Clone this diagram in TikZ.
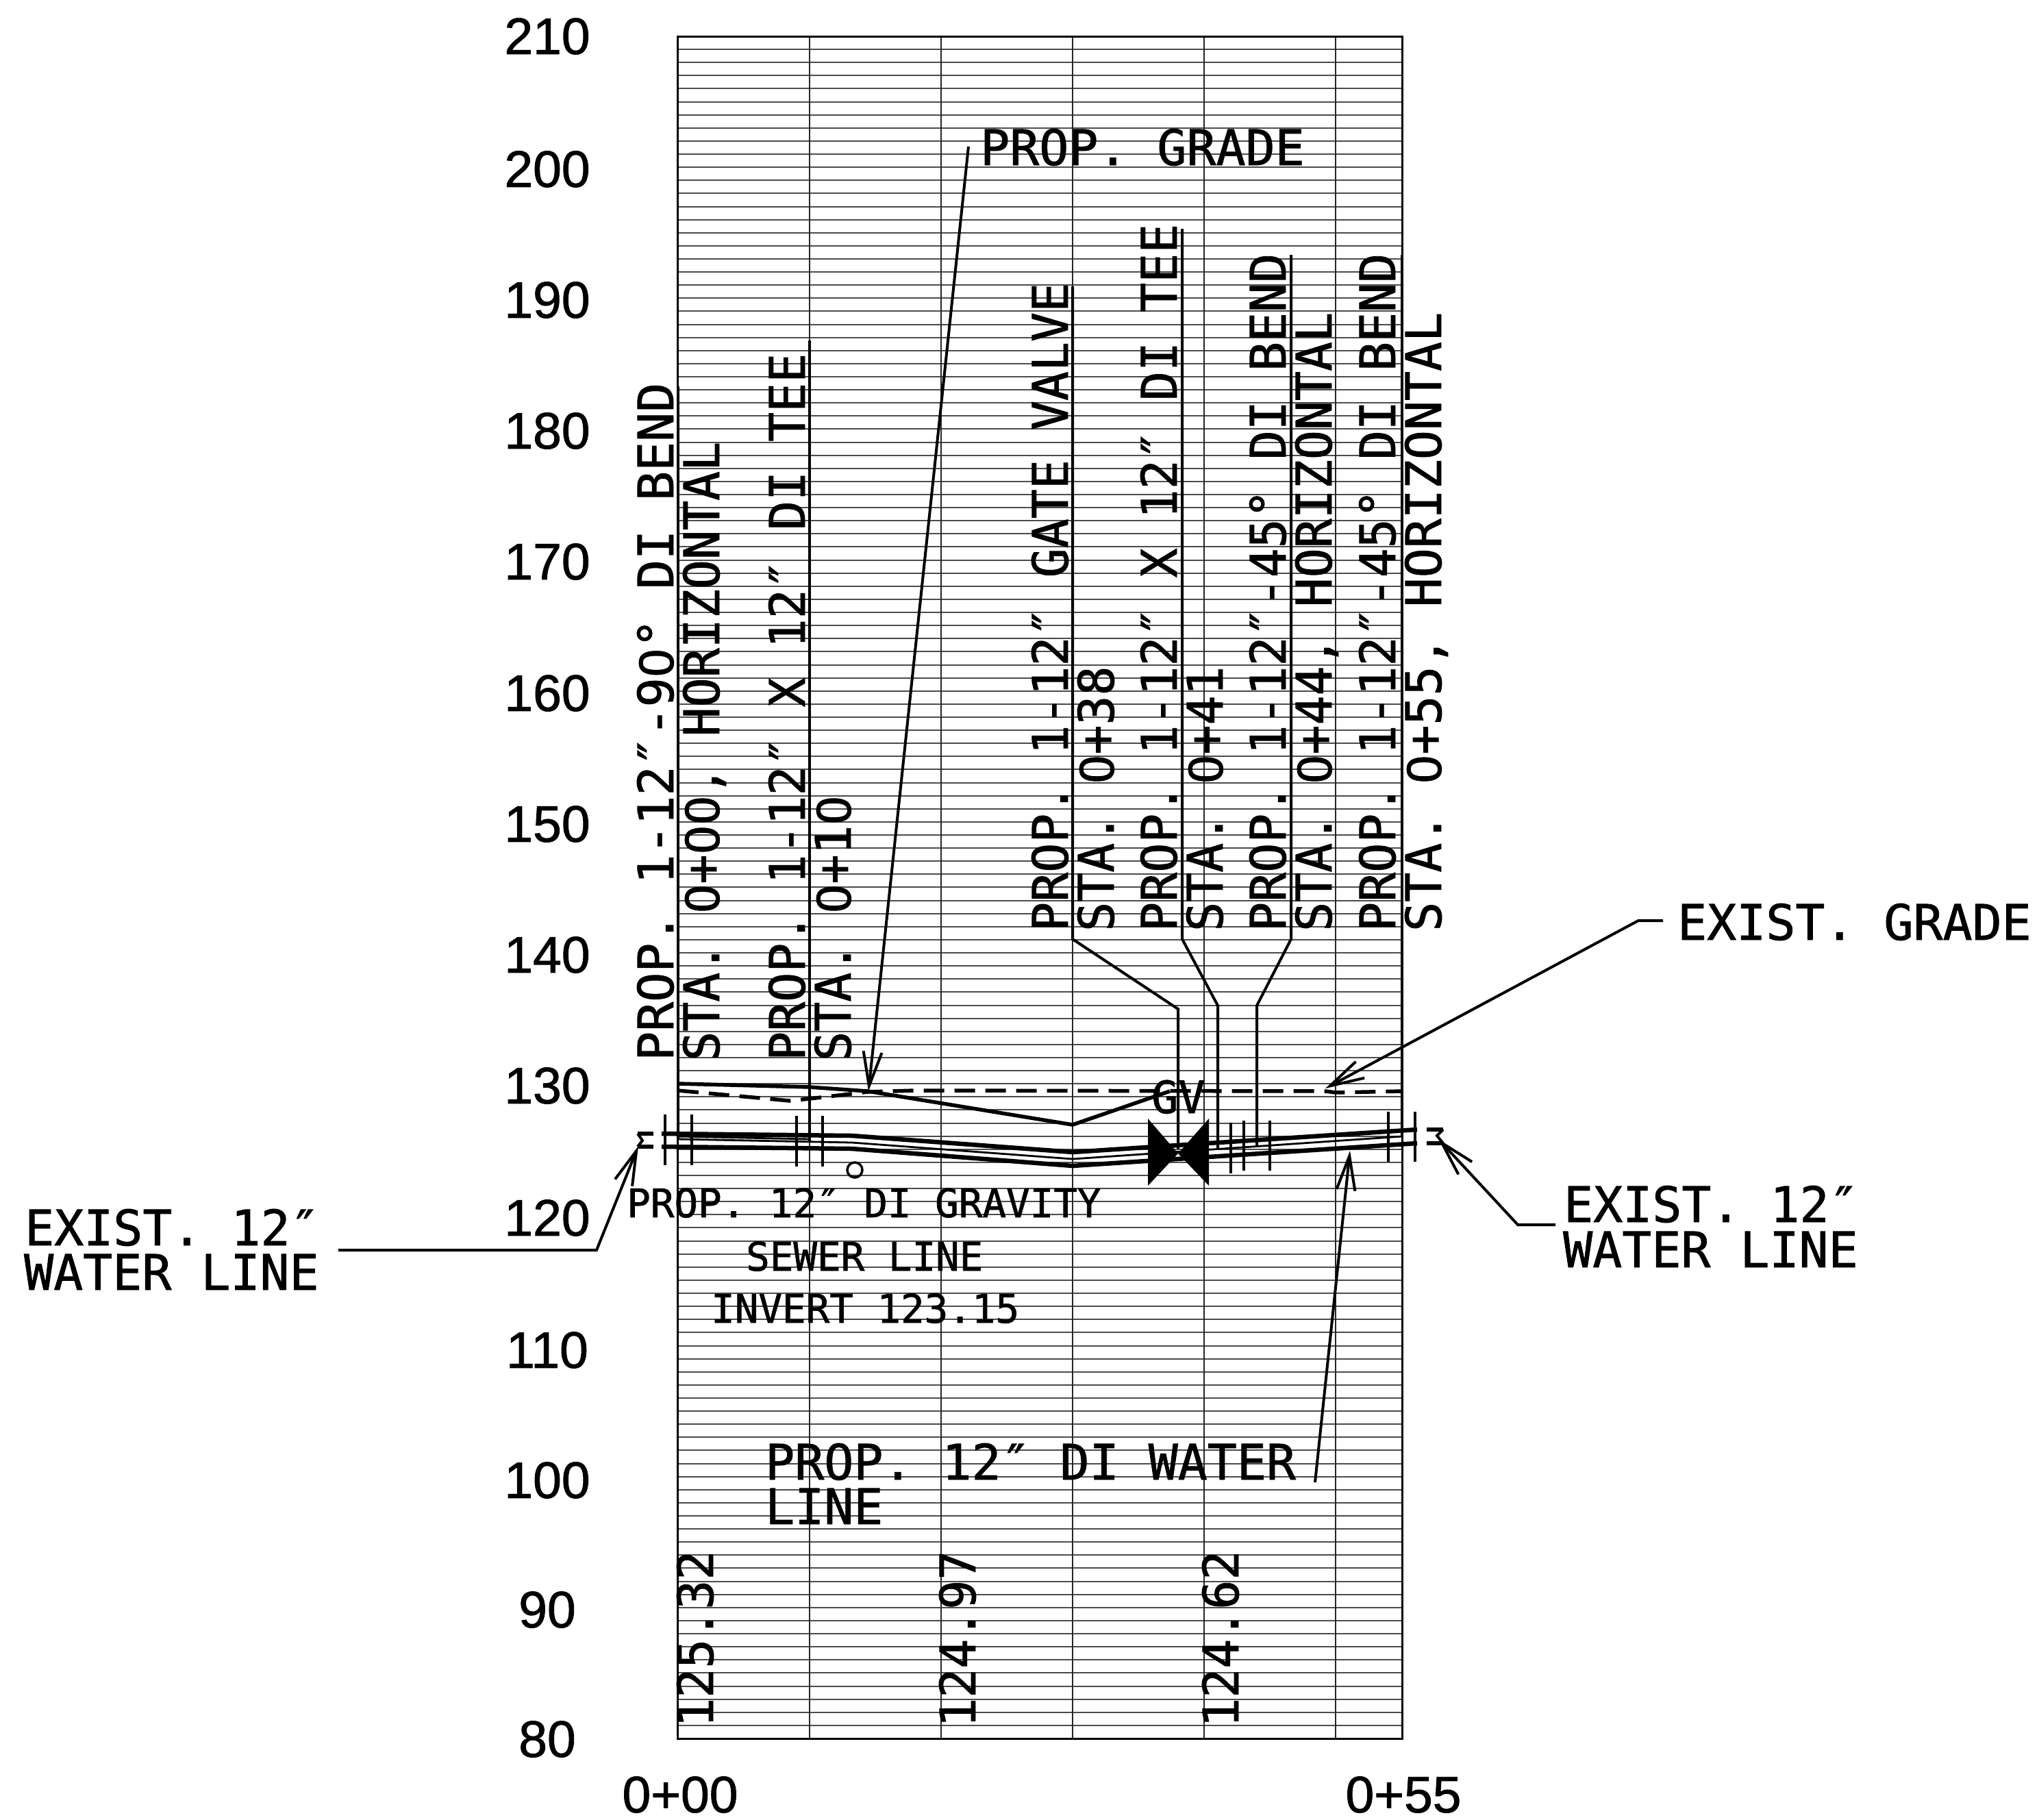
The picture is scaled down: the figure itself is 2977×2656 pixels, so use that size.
\documentclass[tikz,border=0pt]{standalone}
\usepackage{fontspec}
\usetikzlibrary{arrows.meta}
\newfontfamily\cadfont[FakeBold=1.2]{DejaVu Sans Mono}
\newfontfamily\zerofont[FakeBold=1.5]{Liberation Sans}
\newfontfamily\axisfont[FakeBold=1.2]{Liberation Sans}
\newcommand{\Zr}{\makebox[0.602em]{\zerofont 0}}
\frenchspacing
\tikzset{
  gridh/.style={line width=2pt,black!70},
  gridv/.style={line width=1.8pt,black!85},
  frameline/.style={line width=3pt,black},
  leader/.style={line width=4pt,black},
  pointer/.style={line width=4pt,black,-{Straight Barb[length=50pt,width=27pt,line width=4pt]}},
  pipewall/.style={line width=6.5pt,black},
  pipecentre/.style={line width=2.8pt,black},
  grade/.style={line width=5.5pt,black},
  egrade/.style={line width=5.5pt,black,dash pattern=on 30pt off 15pt},
  jointtick/.style={line width=4.5pt,black},
  cad/.style={font=\cadfont\fontsize{71.5}{71.5}\selectfont,inner sep=0pt,anchor=base west},
  cadup/.style={cad,rotate=90},
  cadsmall/.style={font=\cadfont\fontsize{57.5}{57.5}\selectfont,inner sep=0pt,anchor=base west},
  cadgv/.style={font=\cadfont\fontsize{65}{65}\selectfont,inner sep=0pt,anchor=base west},
  axislabel/.style={font=\axisfont\fontsize{75}{75}\selectfont,inner sep=0pt,anchor=center},
}
\begin{document}
\begin{tikzpicture}[x=1pt,y=-1pt]
\useasboundingbox (0,0) rectangle (2977,2656);
% grid
\foreach \i in {0,...,130}{\draw[gridh] (989,{53+\i*19.115}) -- (2047,{53+\i*19.115});}
\foreach \x in {1182,1374,1566,1758,1950}{\draw[gridv] (\x,53) -- (\x,2538);}
\draw[frameline] (989,53) rectangle (2047,2538);
% axis
\foreach \v/\y in {210/53,200/247,190/438,180/629,170/820,160/1012,150/1203,140/1394,130/1585,120/1778,110/1971,100/2161,90/2350,80/2539}{
  \node[axislabel] (ax\v) at (799,\y) {\v};}
\node[axislabel] (st0) at (993,2620) {0+00};
\node[axislabel] (st55) at (2049,2620) {0+55};
% rotated call-outs
\node[cadup] (t1) at (983,1549) {PROP. 1-12″-9\Zr° DI BEND};
\node[cadup] (t2) at (1050,1549) {STA. \Zr+\Zr\Zr, HORIZONTAL};
\node[cadup] (t3) at (1175,1549) {PROP. 1-12″ X 12″ DI TEE};
\node[cadup] (t4) at (1242,1549) {STA. \Zr+1\Zr};
\node[cadup] (t5) at (1559,1360) {PROP. 1-12″ GATE VALVE};
\node[cadup] (t6) at (1626,1360) {STA. \Zr+38};
\node[cadup] (t7) at (1718,1360) {PROP. 1-12″ X 12″ DI TEE};
\node[cadup] (t8) at (1785,1360) {STA. \Zr+41};
\node[cadup] (t9) at (1877,1360) {PROP. 1-12″-45° DI BEND};
\node[cadup] (t10) at (1944,1360) {STA. \Zr+44, HORIZONTAL};
\node[cadup] (t11) at (2037,1360) {PROP. 1-12″-45° DI BEND};
\node[cadup] (t12) at (2104,1360) {STA. \Zr+55, HORIZONTAL};
% elevations
\node[cadup] (e1) at (1041,2522) {125.32};
\node[cadup] (e2) at (1424,2522) {124.97};
\node[cadup] (e3) at (1808,2522) {124.62};
% horizontal labels
\node[cad] (pg) at (1431,241) {PROP. GRADE};
\node[cad] (eg) at (2449,1372) {EXIST. GRADE};
\node[cad] (wl1a) at (36,1818) {EXIST. 12″};
\node[cad] (wl1b) at (35,1883) {WATER LINE};
\node[cad] (wl2a) at (2283,1784) {EXIST. 12″};
\node[cad] (wl2b) at (2282,1850) {WATER LINE};
\node[cad] (dia) at (1117,2160) {PROP. 12″ DI WATER};
\node[cad] (dib) at (1117,2225) {LINE};
\node[cadsmall] (s1) at (915,1777) {PROP. 12″ DI GRAVITY};
\node[cadsmall] (s2) at (1089,1855) {SEWER LINE};
\node[cadsmall] (s3) at (1038,1931) {INVERT 123.15};
\node[cadgv] (gv) at (1681,1625) {GV};
% grade lines
\draw[grade] (990,1582) -- (1182,1587) -- (1267,1593) -- (1566,1642) -- (1708,1593);
\draw[egrade] (990,1592) -- (1153,1607) -- (1182,1604) -- (1267,1594) -- (1336,1592) -- (1935,1593) -- (1950,1595) -- (2047,1593);
% pipe
\draw[pipewall] (931,1655) -- (954,1655);
\draw[pipewall] (931,1674) -- (954,1674);
\draw[pipewall] (966,1655) -- (1244,1658) -- (1566,1682) -- (2069,1649);
\draw[pipewall] (966,1674) -- (1244,1677) -- (1566,1702) -- (2069,1669);
\draw[pipecentre] (990,1663) -- (1244,1668) -- (1566,1692) -- (2047,1659);
\draw[pipecentre] (990,1659) -- (1182,1663);
\draw[pipewall] (2083,1649) -- (2107,1649);
\draw[pipewall] (2083,1669) -- (2107,1669);
\draw[line width=4pt,line join=miter] (931,1655) -- (938,1665) -- (931,1674);
\draw[line width=4pt,line join=miter] (2107,1649) -- (2098,1658) -- (2107,1669);
% joints
\foreach \x/\a/\b in {971/1627/1701,1010/1627/1701,1163/1629/1703,1201/1629/1703,1797/1639/1713,1816/1636/1709,1854/1636/1709,2027/1623/1696,2066/1623/1696}{
  \draw[jointtick] (\x,\a) -- (\x,\b);}
% valve
\fill[black] (1676,1633) -- (1720,1684) -- (1676,1731) -- cycle;
\fill[black] (1765,1633) -- (1720,1684) -- (1765,1731) -- cycle;
\draw[line width=3.5pt] (1248,1708) circle (11pt);
% leaders
\coordinate (la1) at (990,564);   \coordinate (la2) at (990,1663);
\coordinate (lb1) at (1182,497);  \coordinate (lb2) at (1182,1668);
\coordinate (lc1) at (1566,418);  \coordinate (lc2) at (1566,1371); \coordinate (lc3) at (1720,1473); \coordinate (lc4) at (1720,1677);
\coordinate (ld1) at (1726,334);  \coordinate (ld2) at (1726,1371); \coordinate (ld3) at (1778,1468); \coordinate (ld4) at (1778,1676);
\coordinate (le1) at (1885,372);  \coordinate (le2) at (1885,1371); \coordinate (le3) at (1835,1468); \coordinate (le4) at (1835,1672);
\coordinate (lf1) at (2047,372);  \coordinate (lf2) at (2047,1660);
\draw[leader] (la1) -- (la2);
\draw[leader] (lb1) -- (lb2);
\draw[leader] (lc1) -- (lc2) -- (lc3) -- (lc4);
\draw[leader] (ld1) -- (ld2) -- (ld3) -- (ld4);
\draw[leader] (le1) -- (le2) -- (le3) -- (le4);
\draw[leader] (lf1) -- (lf2);
% pointers
\coordinate (pg0) at (1414,214);  \coordinate (pg1) at (1268,1593);
\coordinate (eg0) at (2428,1344); \coordinate (eg1) at (2392,1344); \coordinate (eg2) at (1935,1589);
\coordinate (w0) at (494,1825);   \coordinate (w1) at (871,1825);   \coordinate (w2) at (932,1673);
\coordinate (r0) at (2271,1788);  \coordinate (r1) at (2216,1788);  \coordinate (r2) at (2100,1663);
\coordinate (b0) at (1920,2164);  \coordinate (b1) at (1971,1680);
\draw[pointer] (pg0) -- (pg1);
\draw[pointer] (eg0) -- (eg1) -- (eg2);
\draw[pointer] (w0) -- (w1) -- (w2);
\draw[pointer] (r0) -- (r1) -- (r2);
\draw[pointer] (b0) -- (b1);
\end{tikzpicture}
\end{document}
